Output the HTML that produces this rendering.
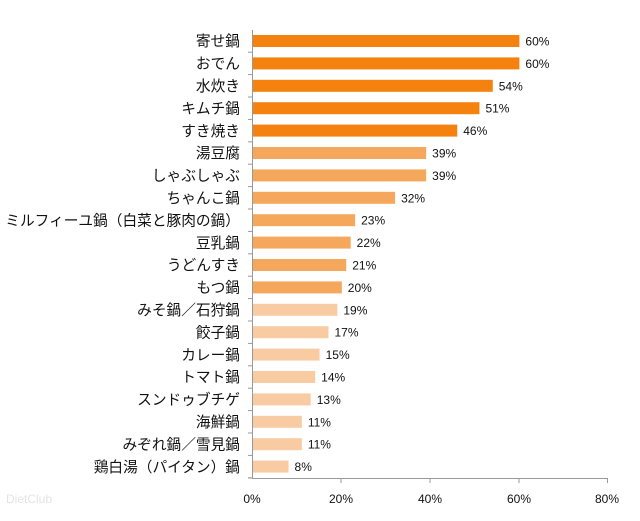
<!DOCTYPE html>
<html><head><meta charset="utf-8"><style>
body{margin:0;background:#fff;}
svg text{font-family:"Liberation Sans","Noto Sans CJK JP",sans-serif;fill:#111;}
</style></head><body>
<svg width="640" height="516" xmlns="http://www.w3.org/2000/svg">
<line x1="252.5" y1="30" x2="252.5" y2="478" stroke="#999"/>
<line x1="252" y1="478.5" x2="608" y2="478.5" stroke="#999"/>
<g stroke="#999">
<line x1="341" y1="478" x2="341" y2="483"/><line x1="430" y1="478" x2="430" y2="483"/>
<line x1="519" y1="478" x2="519" y2="483"/><line x1="607.5" y1="478" x2="607.5" y2="483"/>
<line x1="248" y1="478" x2="253" y2="478"/>
</g>
<g font-size="12" text-anchor="middle">
<text x="252" y="503">0%</text><text x="341" y="503">20%</text><text x="430" y="503">40%</text><text x="519" y="503">60%</text><text x="607" y="503">80%</text>
</g>
<text x="6" y="503" font-size="12" style="fill:#e4e4e4">DietClub</text>
<g id="bars"></g>
</svg>
<script>
var d=[["寄せ鍋",60],["おでん",60],["水炊き",54],["キムチ鍋",51],["すき焼き",46],["湯豆腐",39],["しゃぶしゃぶ",39],["ちゃんこ鍋",32],["ミルフィーユ鍋（白菜と豚肉の鍋）",23],["豆乳鍋",22],["うどんすき",21],["もつ鍋",20],["みそ鍋／石狩鍋",19],["餃子鍋",17],["カレー鍋",15],["トマト鍋",14],["スンドゥブチゲ",13],["海鮮鍋",11],["みぞれ鍋／雪見鍋",11],["鶏白湯（パイタン）鍋",8]];
var g=document.getElementById("bars"),s="";
d.forEach(function(r,i){
 var cy=41+i*22.4,w=r[1]*4.44,c=i<5?"#f5820f":(i<12?"#f5a75c":"#f9cba2");
 s+='<rect x="253" y="'+(cy-6)+'" width="'+w+'" height="12" fill="'+c+'"/>';
 s+='<text x="'+(253+w+6)+'" y="'+(cy+4.5)+'" font-size="12">'+r[1]+'%</text>';
 s+='<text x="240" y="'+(cy+5.2)+'" font-size="14.7" text-anchor="end">'+r[0]+'</text>';
 s+='<line x1="248" x2="253" y1="'+(cy+11.2)+'" y2="'+(cy+11.2)+'" stroke="#999"/>';
});
g.innerHTML=s;
</script>
</body></html>
